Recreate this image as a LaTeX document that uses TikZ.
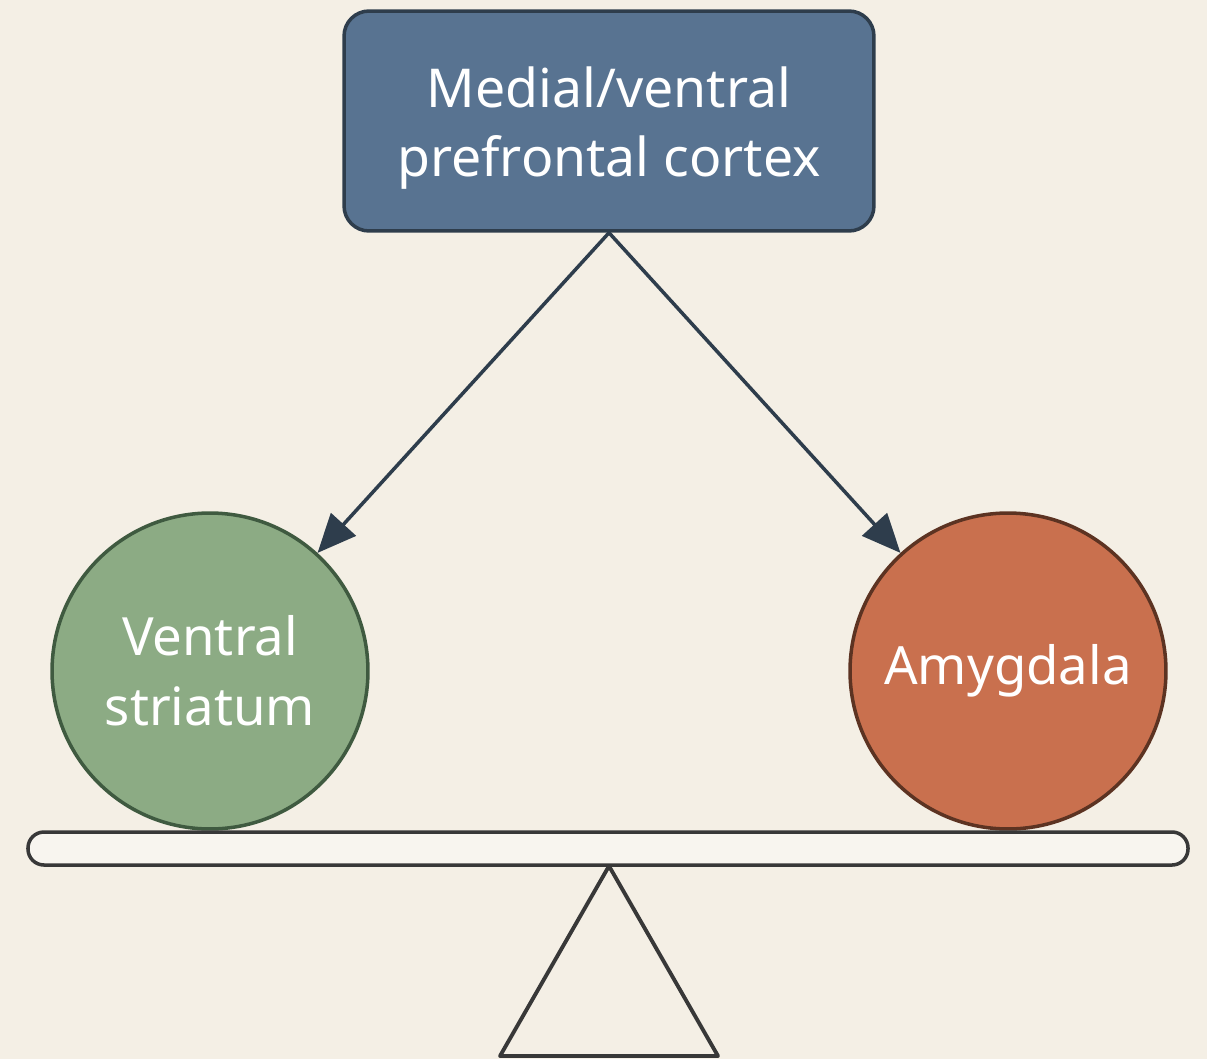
\documentclass[tikz,border=0pt]{standalone}
\usepackage{fontspec}
\setmainfont{Noto Sans}
\usepackage{xcolor}
\usetikzlibrary{arrows.meta}
\definecolor{bgpaper}{HTML}{F4EFE5}
\definecolor{slateblue}{HTML}{587391}
\definecolor{slatedark}{HTML}{2E3D4C}
\definecolor{sage}{HTML}{8CAB84}
\definecolor{sagedark}{HTML}{3F5A40}
\definecolor{rust}{HTML}{C9704E}
\definecolor{rustdark}{HTML}{5C3322}
\definecolor{inkgray}{HTML}{383838}
\tikzset{
  region/.style={rectangle, rounded corners=0.5cm, draw=slatedark, fill=slateblue, line width=2pt,
    minimum width=10.6cm, minimum height=4.4cm, text=white, align=center,
    font=\fontsize{30.5}{39}\selectfont},
  ball/.style={circle, line width=2pt, minimum size=6.32cm, inner sep=0pt, text=white, align=center,
    font=\fontsize{30}{40}\selectfont},
  pull/.style={-{Triangle[length=22pt,width=19pt]}, draw=slatedark, line width=2pt},
  every picture/.style={line cap=round, line join=round}
}
\begin{document}
\begin{tikzpicture}[x=0.02cm, y=-0.02cm]
  \fill[bgpaper] (0,0) rectangle (1207,1059);
  \useasboundingbox (0,0) rectangle (1207,1059);
  \node[region] (mpfc) at (609,121) {\rule{0pt}{1.1cm}Medial/ventral\\prefrontal cortex};
  \node[ball, draw=sagedark, fill=sage] (vs) at (210,671) {Ventral\\striatum};
  \node[ball, draw=rustdark, fill=rust] (amy) at (1008,671) {Amygdala};
  \draw[pull] (mpfc.south) -- (vs);
  \draw[pull] (mpfc.south) -- (amy);
  % seesaw
  \draw[inkgray, fill=bgpaper!60!white, line width=2pt, rounded corners=0.32cm] (28,832) rectangle (1188,865);
  \draw[inkgray, line width=2.2pt] (609,866) -- (500,1056) -- (718,1056) -- cycle;
\end{tikzpicture}
\end{document}
